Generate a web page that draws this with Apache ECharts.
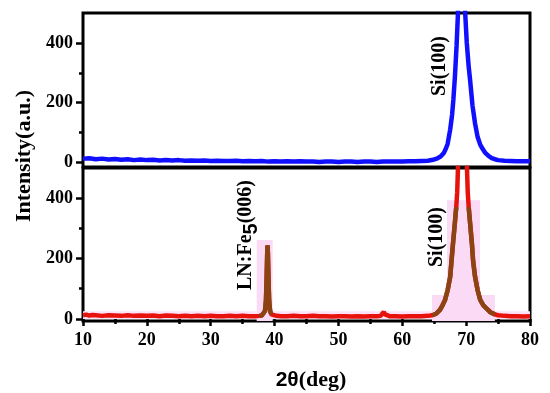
<!DOCTYPE html>
<html><head><meta charset="utf-8">
<script src="https://cdn.jsdelivr.net/npm/echarts@6/dist/echarts.min.js"></script>
<style>html,body{margin:0;padding:0;background:#fff}#c{width:550px;height:393px}</style>
</head><body><div id="c"></div>
<script>
// ---- data (2θ in deg, intensity in a.u.) ----
const xTickValues = [10, 20, 30, 40, 50, 60, 70, 80];
const yTickValues = [0, 200, 400];
const yMinorValues = [100, 300];
const topRange = [-15, 500];
const bottomRange = [-7, 500];

// top panel (blue) scan
const blueScan = [[10,13],[11,14],[12,11],[13,13],[14,10],[15,12],[16,9],[17,11],[18,8],[19,10],[20,8],[21,9],[22,7],[23,8],[24,7],[25,8],[26,6],[27,7],[28,6],[29,7],[30,5],[31,6],[32,5],[33,5],[34,6],[35,4],[36,5],[37,4],[38,5],[39,3],[40,4],[41,3],[42,4],[43,3],[44,4],[45,3],[46,3],[47,2],[48,3],[49,3],[50,2],[51,3],[52,3],[53,2],[54,3],[55,3],[56,2],[57,3],[58,3],[59,3],[60,3],[61,4],[62,4],[63,5],[64,6],[64.8,9],[65.5,14],[66,20],[66.5,32],[66.8,45],[67.1,62],[67.5,110],[67.8,160],[68.0,210],[68.25,290],[68.5,390],[68.72,500],[68.9,650],[69.1,900],[69.3,1200],[69.5,900],[69.7,620],[69.85,500],[70.1,400],[70.4,320],[70.6,280],[71.0,190],[71.4,130],[71.8,85],[72.2,60],[72.6,45],[73.0,32],[73.5,22],[74,15],[74.5,11],[75,8],[76,6],[77,5],[78,4],[79,4],[80,4]];

// bottom panel (red) scan
const redScan = [[10,12],[10.5,14],[11,11],[11.5,13],[12,12],[13,10],[14,12],[15,11],[16,10],[17,12],[18,10],[19,11],[20,10],[21,11],[22,9],[23,11],[24,10],[25,9],[26,10],[27,9],[28,10],[29,9],[30,10],[31,9],[32,9],[33,10],[34,9],[35,10],[36,9],[37,9],[37.6,10],[38,11],[38.3,15],[38.5,26],[38.65,60],[38.75,130],[38.85,220],[38.9,244],[38.95,220],[39.05,130],[39.15,60],[39.3,26],[39.5,15],[39.8,11],[40.3,10],[41,9],[42,9],[43,10],[44,9],[45,9],[46,10],[47,9],[48,9],[49,8],[50,9],[51,9],[52,8],[53,9],[54,8],[55,9],[56,9],[56.6,10],[56.9,15],[57.1,23],[57.3,15],[57.6,10],[58,9],[59,9],[60,8],[61,9],[62,9],[63,9],[64,10],[64.7,12],[65.3,17],[65.9,30],[66.3,45],[66.7,63],[67.1,95],[67.5,139],[67.7,190],[67.9,240],[68.2,310],[68.45,370],[68.6,420],[68.72,500],[68.9,700],[69.1,1000],[69.4,1300],[69.7,1000],[69.95,700],[70.13,500],[70.25,420],[70.4,370],[70.65,310],[70.9,250],[71.1,190],[71.4,139],[71.8,95],[72.2,63],[72.7,45],[73.3,32],[73.8,22],[74.5,15],[75,12],[76,10],[77,9],[78,9],[79,8],[80,9]];

// highlighted (pink) regions of the bottom panel: [x0, x1, yTop]
const pinkRegions = [[37.2, 39.7, 261], [64.65, 74.5, 79], [67.0, 72.17, 393]];
const pinkBand = [10, 80, 25];

const peakLabels = ['Si(100)', 'Si(100)', 'LN:Fe5(006)'];

// ---- build ----
const brownScan = redScan.map(([x, y]) => {
  const inside = pinkRegions.some(([x0, x1, yt]) => x >= x0 && x <= x1 && y <= yt);
  return [x, inside ? y : null];
});

const SERIF = '"Liberation Serif","Times New Roman",serif';
const SANS = '"Liberation Sans",Arial,sans-serif';

function yAxisMain(gi, range) {
  return {
    gridIndex: gi, type: 'value', min: range[0], max: range[1], position: 'left',
    axisLine: {show: false}, splitLine: {show: false},
    axisTick: {show: true, length: 7, customValues: yTickValues, lineStyle: {color: '#000', width: 2.5}},
    axisLabel: {show: true, customValues: yTickValues, margin: 10, color: '#000', fontFamily: SERIF, fontWeight: 'bold', fontSize: 18}
  };
}
function yAxisMinor(gi, range) {
  return {
    gridIndex: gi, type: 'value', min: range[0], max: range[1], position: 'left',
    axisLine: {show: false}, splitLine: {show: false},
    axisTick: {show: true, length: 4, customValues: yMinorValues, lineStyle: {color: '#000', width: 2.5}},
    axisLabel: {show: false}
  };
}

const chart = echarts.init(document.getElementById('c'), null, {renderer: 'canvas'});
chart.setOption({
  animation: false,
  backgroundColor: '#fff',
  grid: [
    {left: 83, width: 447, top: 13, height: 154, show: true, borderColor: '#000', borderWidth: 3, backgroundColor: 'transparent', containLabel: false},
    {left: 83, width: 447, top: 168, height: 153, show: true, borderColor: '#000', borderWidth: 3, backgroundColor: 'transparent', containLabel: false}
  ],
  xAxis: [
    {gridIndex: 0, type: 'value', min: 10, max: 80, interval: 10, axisLine: {show: false}, axisTick: {show: false}, axisLabel: {show: false}, splitLine: {show: false}},
    {gridIndex: 1, type: 'value', min: 10, max: 80, interval: 10,
      axisLine: {show: false}, splitLine: {show: false},
      axisTick: {show: true, length: 7, customValues: xTickValues, lineStyle: {color: '#000', width: 2.5}},
      minorTick: {show: true, splitNumber: 2, length: 5, lineStyle: {color: '#000', width: 2.5}},
      axisLabel: {show: true, customValues: xTickValues, margin: 10, color: '#000', fontFamily: SERIF, fontWeight: 'bold', fontSize: 18}}
  ],
  yAxis: [yAxisMain(0, topRange), yAxisMinor(0, topRange), yAxisMain(1, bottomRange), yAxisMinor(1, bottomRange)],
  series: [
    {type: 'line', xAxisIndex: 0, yAxisIndex: 0, data: blueScan, showSymbol: false, symbol: 'none', clip: true,
      lineStyle: {color: '#1010ff', width: 4.5}, z: 3},
    {type: 'line', xAxisIndex: 1, yAxisIndex: 2, data: redScan, showSymbol: false, symbol: 'none', clip: true,
      lineStyle: {color: '#e8120c', width: 4.5}, z: 3,
      markArea: {silent: true, z: 1, itemStyle: {color: '#fadaf5'},
        data: [[{coord: [pinkBand[0], 0], itemStyle: {color: '#fbe2f7'}}, {coord: [pinkBand[1], pinkBand[2]]}]].concat(
          pinkRegions.map(([x0, x1, yt]) => [{coord: [x0, bottomRange[0]]}, {coord: [x1, yt]}]))}},
    {type: 'line', xAxisIndex: 1, yAxisIndex: 2, data: brownScan, showSymbol: false, symbol: 'none', clip: true, connectNulls: false,
      lineStyle: {color: '#8a4414', width: 4.5}, z: 4}
  ],
  graphic: [
    {type: 'text', x: 440, y: 66, rotation: Math.PI / 2, z: 10,
      style: {text: peakLabels[0], font: 'bold 20px ' + SERIF, fill: '#000', align: 'center', verticalAlign: 'middle'}},
    {type: 'text', x: 437, y: 237, rotation: Math.PI / 2, z: 10,
      style: {text: peakLabels[1], font: 'bold 20px ' + SERIF, fill: '#000', align: 'center', verticalAlign: 'middle'}},
    {type: 'text', x: 247, y: 235, rotation: Math.PI / 2, z: 10,
      style: {text: '{a|LN:Fe}{s|5}{a|(006)}', align: 'center', verticalAlign: 'middle',
        rich: {a: {fontFamily: SERIF, fontWeight: 'bold', fontSize: 20, fill: '#000', lineHeight: 22, verticalAlign: 'top'},
               s: {fontFamily: SANS, fontWeight: 'bold', fontSize: 20, fill: '#000', lineHeight: 22, verticalAlign: 'top', padding: [5, 0, 0, 0]}}}},
    {type: 'text', x: 24, y: 156, rotation: Math.PI / 2, z: 10,
      style: {text: 'Intensity(a.u.)', font: 'bold 22px ' + SERIF, fill: '#000', align: 'center', verticalAlign: 'middle'}},
    {type: 'text', x: 311, y: 380, z: 10,
      style: {text: '{s|2θ}{a|(deg)}', align: 'center', verticalAlign: 'middle',
        rich: {s: {fontFamily: SANS, fontWeight: 'bold', fontSize: 21, fill: '#000'},
               a: {fontFamily: SERIF, fontWeight: 'bold', fontSize: 22, fill: '#000'}}}}
  ]
});
</script></body></html>
